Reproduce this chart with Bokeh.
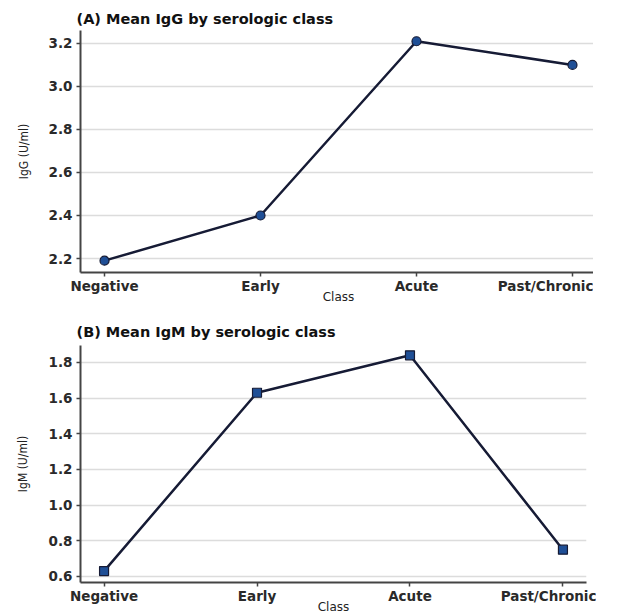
from bokeh.plotting import figure
from bokeh.layouts import column
from bokeh.models import FixedTicker, Range1d, PrintfTickFormatter
from bokeh.embed import file_html
from bokeh.resources import INLINE

classes = ["Negative", "Early", "Acute", "Past/Chronic"]
igg_mean = [2.19, 2.40, 3.21, 3.10]
igm_mean = [0.63, 1.63, 1.84, 0.75]
igg_ticks = [2.2, 2.4, 2.6, 2.8, 3.0, 3.2]
igm_ticks = [0.6, 0.8, 1.0, 1.2, 1.4, 1.6, 1.8]

LINE = "#161b35"
FILL = "#1f4f96"
FONT = "DejaVu Sans"


def make(title, ylabel, ys, yticks, yr, marker, fw, fh, left, top, tstand, ylstand):
    xs = list(range(len(classes)))
    p = figure(width=608, height=300, output_backend="svg", toolbar_location=None,
               x_range=Range1d(-0.154, 3.154), y_range=Range1d(*yr),
               frame_width=fw, frame_height=fh, min_border_left=left,
               min_border_top=top, min_border_right=10, min_border_bottom=0)
    p.title.text = title
    p.title.text_font = FONT
    p.title.text_font_style = "bold"
    p.title.text_font_size = "14.5px"
    p.title.text_color = "#111111"
    p.title.offset = -4
    p.title.standoff = tstand
    p.outline_line_color = None
    p.background_fill_color = "white"
    p.xgrid.grid_line_color = None
    p.ygrid.grid_line_color = "#dcdcdc"
    p.ygrid.grid_line_width = 1.5
    p.ygrid.ticker = FixedTicker(ticks=yticks)
    p.yaxis.ticker = FixedTicker(ticks=yticks)
    p.yaxis.formatter = PrintfTickFormatter(format="%.1f")
    p.xaxis.ticker = FixedTicker(ticks=xs)
    p.xaxis.major_label_overrides = {i: c for i, c in enumerate(classes)}
    for ax in (p.xaxis, p.yaxis):
        ax.axis_line_color = "#444444"
        ax.axis_line_width = 2
        ax.major_tick_line_color = "#444444"
        ax.major_tick_line_width = 1.5
        ax.major_tick_in = 0
        ax.major_tick_out = 4
        ax.minor_tick_line_color = None
        ax.major_label_text_font = FONT
        ax.major_label_text_font_size = "13.5px"
        ax.major_label_text_font_style = "bold"
        ax.major_label_text_color = "#2a2a2a"
        ax.axis_label_text_font_style = "normal"
        ax.axis_label_text_color = "#222222"
    p.yaxis.major_label_standoff = 4
    p.xaxis.major_label_standoff = 1
    p.xaxis.axis_label = "Class"
    p.xaxis.axis_label_text_font = FONT
    p.xaxis.axis_label_text_font_size = "12px"
    p.xaxis.axis_label_standoff = -7
    p.yaxis.axis_label = ylabel
    p.yaxis.axis_label_text_font = "DejaVu Sans Condensed"
    p.yaxis.axis_label_text_font_size = "12px"
    p.yaxis.axis_label_standoff = ylstand
    p.line(xs, ys, line_color=LINE, line_width=2.5)
    p.scatter(xs, ys, marker=marker, size=9, fill_color=FILL, line_color=LINE, line_width=1.2)
    return p


p1 = make("(A) Mean IgG by serologic class", "IgG (U/ml)", igg_mean, igg_ticks,
          (2.135, 3.26), "circle", 516, 242, 40, 30, 7, 15)
p2 = make("(B) Mean IgM by serologic class", "IgM (U/ml)", igm_mean, igm_ticks,
          (0.566, 1.895), "square", 506, 237, 80, 39, 12, 16)

layout = column(p1, p2, spacing=0)
open("out.html", "w").write(file_html(layout, INLINE))
